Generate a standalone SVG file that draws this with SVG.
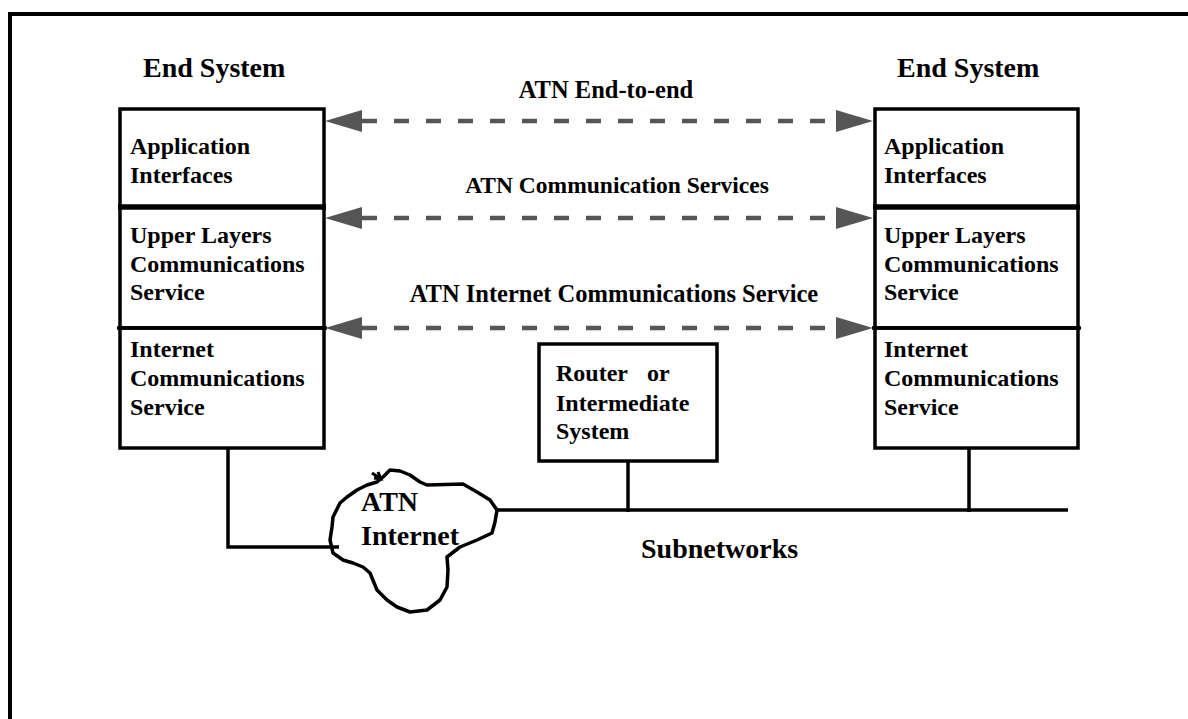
<svg xmlns="http://www.w3.org/2000/svg" width="1188" height="719" viewBox="0 0 1188 719">
  <style>
    text { font-family: "Liberation Serif", "Times New Roman", serif; font-weight: bold; fill: #000; }
    .title { font-size: 28px; }
    .lbl { font-size: 24px; }
    .big { font-size: 28px; }
    .box { fill: #fff; stroke: #000; stroke-width: 3.5; }
    .wire { fill: none; stroke: #000; stroke-width: 3.5; }
    .dash { fill: none; stroke: #555; stroke-width: 4.3; stroke-dasharray: 15 17; }
  </style>
  <defs>
    <marker id="head" markerUnits="userSpaceOnUse" markerWidth="38" markerHeight="24" refX="0" refY="11" orient="auto-start-reverse">
      <path d="M0,0 L37,11 L0,22 Z" fill="#555"/>
    </marker>
  </defs>

  <rect width="1188" height="719" fill="#fff"/>

  <!-- outer frame (open on right and bottom) -->
  <path d="M10,719 L10,14 L1188,14" fill="none" stroke="#000" stroke-width="4"/>

  <!-- left end system -->
  <g id="end-system-left">
    <text class="title" x="143" y="77">End System</text>
    <rect class="box" x="120" y="109" width="204" height="98"/>
    <rect class="box" x="120" y="207" width="204" height="121"/>
    <rect class="box" x="120" y="328" width="204" height="120"/>
    <line x1="118" y1="207" x2="326" y2="207" stroke="#000" stroke-width="5.5"/>
    <line x1="117" y1="328" x2="327" y2="328" stroke="#000" stroke-width="3.5"/>
    <text class="lbl" x="130" y="154">Application</text>
    <text class="lbl" x="130" y="183">Interfaces</text>
    <text class="lbl" x="130" y="243">Upper Layers</text>
    <text class="lbl" x="130" y="272">Communications</text>
    <text class="lbl" x="130" y="300">Service</text>
    <text class="lbl" x="130" y="357">Internet</text>
    <text class="lbl" x="130" y="386">Communications</text>
    <text class="lbl" x="130" y="415">Service</text>
  </g>

  <!-- right end system -->
  <g id="end-system-right">
    <text class="title" x="897" y="77">End System</text>
    <rect class="box" x="875" y="109" width="203" height="98"/>
    <rect class="box" x="875" y="207" width="203" height="121"/>
    <rect class="box" x="875" y="328" width="203" height="120"/>
    <line x1="873" y1="207" x2="1080" y2="207" stroke="#000" stroke-width="5.5"/>
    <line x1="872" y1="328" x2="1081" y2="328" stroke="#000" stroke-width="3.5"/>
    <text class="lbl" x="884" y="154">Application</text>
    <text class="lbl" x="884" y="183">Interfaces</text>
    <text class="lbl" x="884" y="243">Upper Layers</text>
    <text class="lbl" x="884" y="272">Communications</text>
    <text class="lbl" x="884" y="300">Service</text>
    <text class="lbl" x="884" y="357">Internet</text>
    <text class="lbl" x="884" y="386">Communications</text>
    <text class="lbl" x="884" y="415">Service</text>
  </g>

  <!-- router / intermediate system -->
  <g id="router">
    <rect class="box" x="539" y="344" width="178" height="117"/>
    <text class="lbl" x="556" y="381">Router</text>
    <text class="lbl" x="647" y="381">or</text>
    <text class="lbl" x="556" y="411">Intermediate</text>
    <text class="lbl" x="556" y="439">System</text>
  </g>

  <!-- ATN internet cloud -->
  <g id="atn-internet">
    <path class="wire" d="M383,477 L390,470 L400,471 L410,475 L420,482 L427,485 L463,484 L477,492 L490,500 L497,510 L495,522 L492,533 L477,540 L460,547 L447,557 L448,570 L447,587 L440,600 L427,610 L410,612 L397,607 L387,600 L377,590 L370,573 L363,567 L353,563 L343,560 L333,553 L330,540 L332,527 L333,517 L340,503 L347,497 L357,490 L367,485 L377,482 Z" stroke-linejoin="round"/>
    <path d="M372,473 L381,479 M374,478 L381,479 L378,472" fill="none" stroke="#000" stroke-width="3"/>
    <text class="big" x="361" y="511">ATN</text>
    <text class="big" x="361" y="545">Internet</text>
  </g>

  <!-- connectors -->
  <g id="connectors">
    <line class="dash" x1="362" y1="121" x2="836" y2="121" marker-start="url(#head)" marker-end="url(#head)"/>
    <line class="dash" x1="362" y1="218" x2="836" y2="218" marker-start="url(#head)" marker-end="url(#head)"/>
    <line class="dash" x1="362" y1="328" x2="836" y2="328" marker-start="url(#head)" marker-end="url(#head)"/>
    <path class="wire" d="M228,448 L228,547 L339,547"/>
    <line class="wire" x1="497" y1="510" x2="1068" y2="510"/>
    <line class="wire" x1="628" y1="461" x2="628" y2="512"/>
    <line class="wire" x1="969" y1="448" x2="969" y2="512"/>
  </g>

  <!-- service labels -->
  <g id="labels">
    <text class="lbl" x="606" y="98" text-anchor="middle" style="font-size:24.5px">ATN End-to-end</text>
    <text class="lbl" x="617" y="193" text-anchor="middle" style="font-size:23.5px">ATN Communication Services</text>
    <text class="lbl" x="614" y="302" text-anchor="middle" style="font-size:24.5px">ATN Internet Communications Service</text>
    <text class="big" x="641" y="558">Subnetworks</text>
  </g>
</svg>
